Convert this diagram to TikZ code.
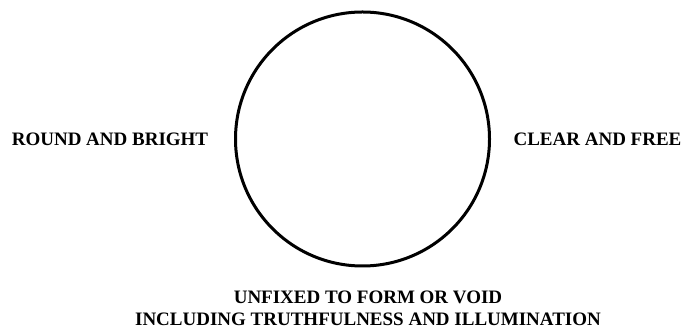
\documentclass[tikz,border=0pt]{standalone}
\usepackage{fontspec}
\setmainfont{Liberation Serif}
\begin{document}
\begin{tikzpicture}[x=1pt,y=1pt,
  lbl/.style={font=\fontsize{19}{22}\selectfont\bfseries, inner sep=0pt, anchor=base, align=center}]
\useasboundingbox[fill=white] (0,0) rectangle (682,331);
\node[draw, line width=3pt, circle, minimum size=254pt, inner sep=0pt] (c) at (362.5,192) {};
\node[lbl] (l) at (110,185) {ROUND AND BRIGHT};
\node[lbl] (r) at (597.5,185) {CLEAR AND FREE};
\node[lbl] (b) at (368,5) {UNFIXED TO FORM OR VOID\\INCLUDING TRUTHFULNESS AND ILLUMINATION};
\end{tikzpicture}
\end{document}
